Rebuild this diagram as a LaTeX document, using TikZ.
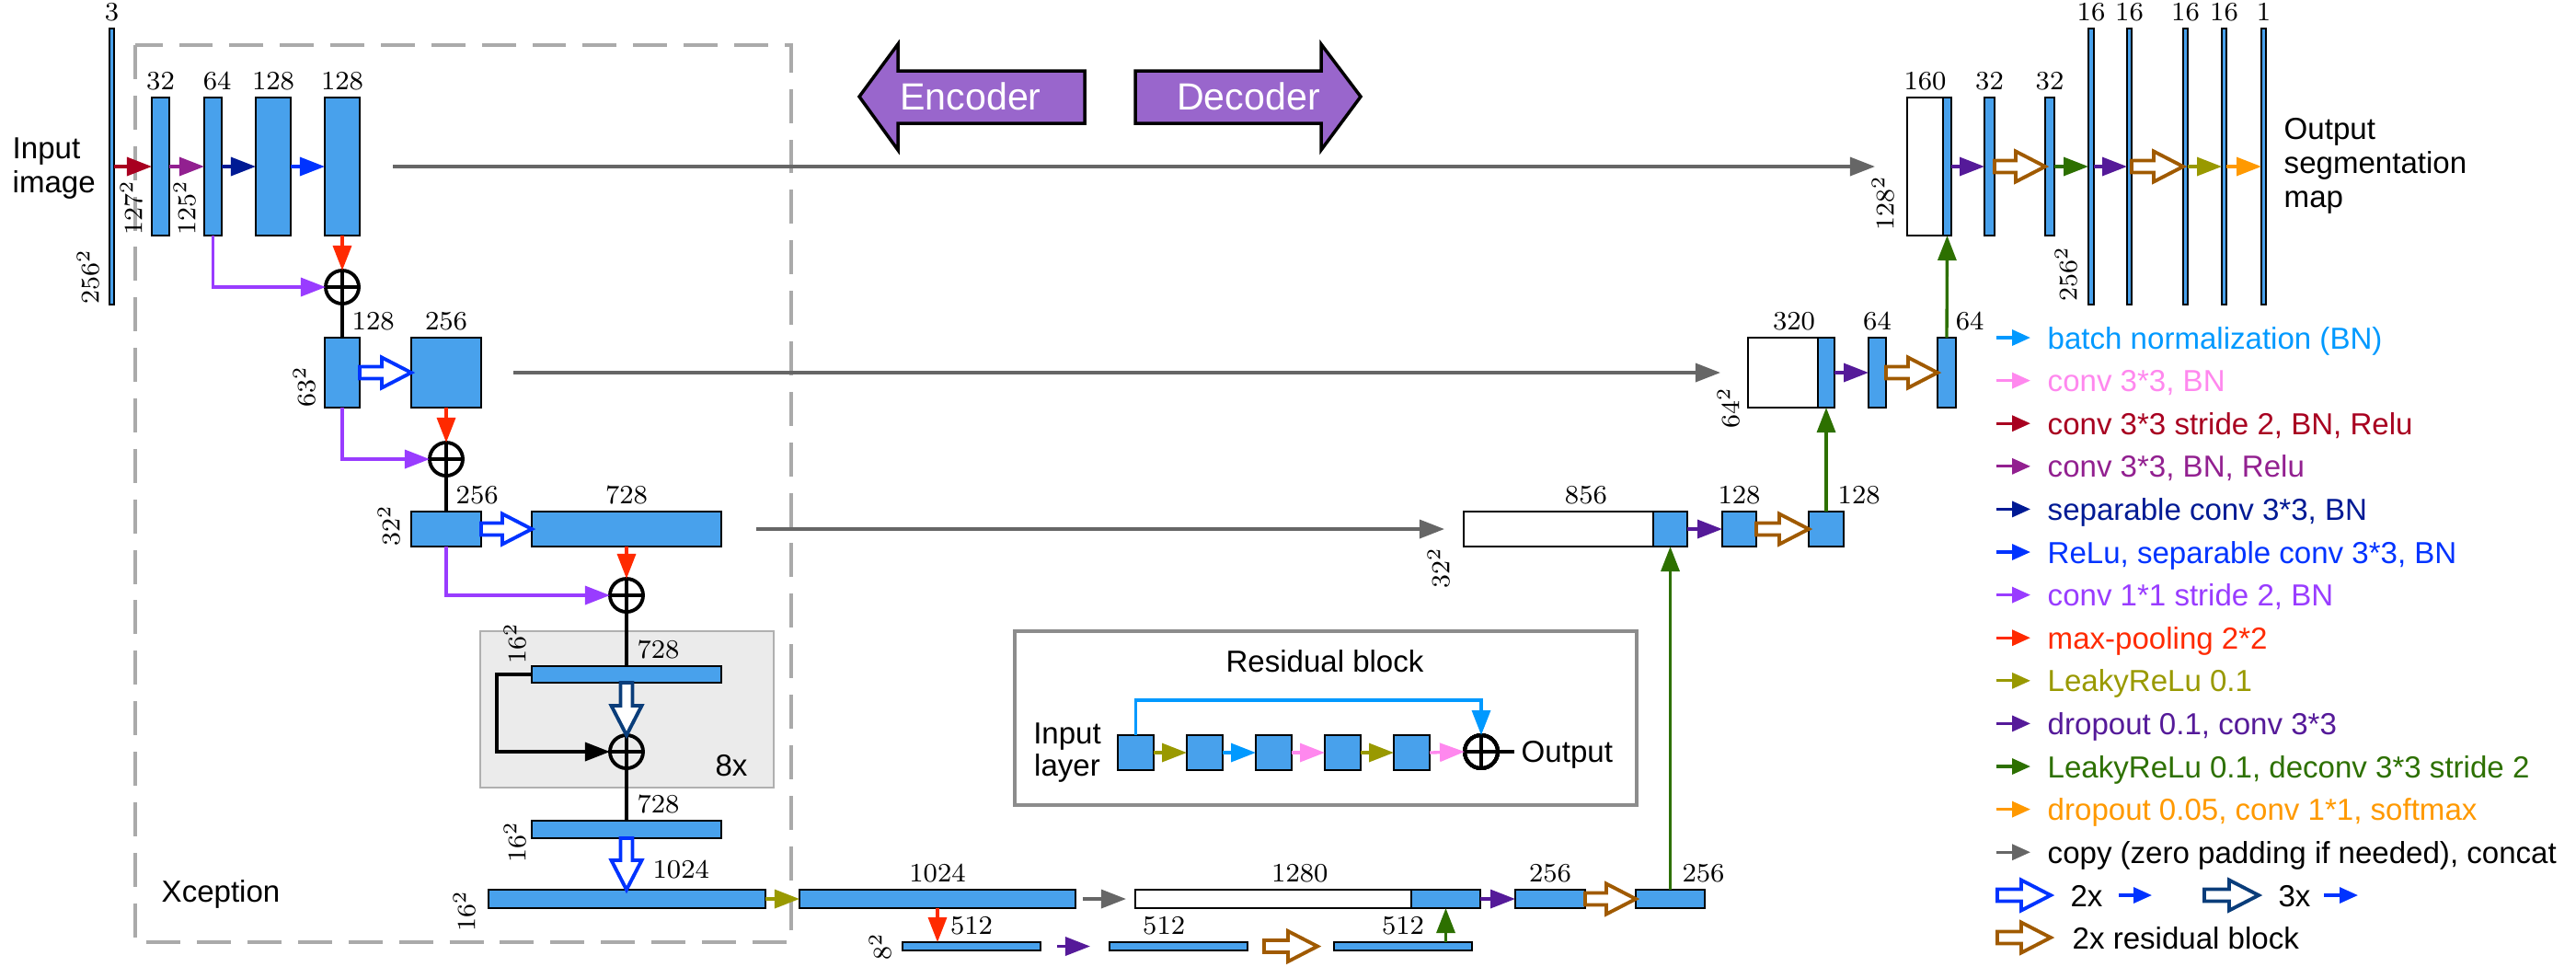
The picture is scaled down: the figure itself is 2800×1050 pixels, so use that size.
\documentclass[tikz,border=0pt]{standalone}
\usepackage{fontspec}
\newfontfamily\arialfont{Liberation Sans}
\usetikzlibrary{arrows.meta,calc}

\definecolor{blockblue}{RGB}{72,161,236}
\definecolor{cbn}{RGB}{0,153,255}
\definecolor{cpink}{RGB}{255,136,238}
\definecolor{cconvs}{RGB}{168,0,32}
\definecolor{cconvr}{RGB}{146,32,144}
\definecolor{csep}{RGB}{0,26,148}
\definecolor{crelu}{RGB}{0,51,255}
\definecolor{cone}{RGB}{153,60,255}
\definecolor{cpool}{RGB}{255,42,0}
\definecolor{cleaky}{RGB}{153,153,0}
\definecolor{cdrop}{RGB}{85,26,153}
\definecolor{cdeconv}{RGB}{45,112,0}
\definecolor{csoft}{RGB}{255,153,0}
\definecolor{ccopy}{RGB}{102,102,102}
\definecolor{cthree}{RGB}{10,61,122}
\definecolor{cres}{RGB}{160,90,0}
\definecolor{cencdec}{RGB}{153,102,204}
\definecolor{boxgray}{RGB}{235,235,235}
\definecolor{boxedge}{RGB}{176,176,176}

\newcommand{\numfont}{\fontsize{8.2}{9.8}\selectfont}
\newcommand{\diagsans}{\arialfont\fontsize{9.4}{10.5}\selectfont}

% block given by its corners (pixel grid of the figure)
\newcommand{\convlayer}[6][]{%
  \node[blk,minimum width={(#5-#3)*0.01cm},minimum height={(#6-#4)*0.01cm},#1] (#2) at ({(#3+#5)/2},{(#4+#6)/2}) {};}

\tikzset{
  blk/.style={draw,fill=blockblue,line width=0.6pt,inner sep=0,outer sep=0},
  lbl/.style={font=\numfont,inner sep=2.1pt},
  side/.style={font=\numfont,inner sep=0,rotate=90},
  txt/.style={font=\diagsans,inner sep=0},
  con/.style={line width=0.95pt,-{Triangle[length=0.27cm,width=0.2cm]}},
  leg/.style={line width=0.95pt,-{Triangle[length=0.2cm,width=0.17cm]}},
  link/.style={line width=1.1pt},
  oplus/.style={circle,draw,line width=1.1pt,minimum size=0.36cm,inner sep=0,outer sep=0,
    path picture={\draw[line width=1.1pt] (path picture bounding box.north) -- (path picture bounding box.south)
      (path picture bounding box.west) -- (path picture bounding box.east);}},
  hollowR/.style={line width=1.1pt,fill=white,line join=miter,
    to path={let \p1=(\tikztostart),\p2=(\tikztotarget) in
      (\x1,{\y1+0.065cm}) -- ({\x2-0.32cm},{\y1+0.065cm}) -- ({\x2-0.32cm},{\y1+0.165cm})
      -- (\x2,\y1) -- ({\x2-0.32cm},{\y1-0.165cm}) -- ({\x2-0.32cm},{\y1-0.065cm})
      -- (\x1,{\y1-0.065cm}) -- cycle}},
  hollowD/.style={line width=1.1pt,fill=white,line join=miter,
    to path={let \p1=(\tikztostart),\p2=(\tikztotarget) in
      ({\x1-0.065cm},\y1) -- ({\x1-0.065cm},{\y2+0.32cm}) -- ({\x1-0.165cm},{\y2+0.32cm})
      -- (\x1,\y2) -- ({\x1+0.165cm},{\y2+0.32cm}) -- ({\x1+0.065cm},{\y2+0.32cm})
      -- ({\x1+0.065cm},\y1) -- cycle}},
  encdec/.style={draw=black,fill=cencdec,line width=1pt,line join=miter}
}

\begin{document}
\begin{tikzpicture}[x=0.01cm,y=-0.01cm]
  \useasboundingbox (0,0) rectangle (2800,1050);

  % frames
  \draw[draw={rgb,255:red,170;green,170;blue,170},line width=1pt,dash pattern=on 10.5pt off 5.1pt] (147,49) rectangle (860,1024);
  \draw[fill=boxgray,draw=boxedge,line width=0.6pt] (522,686) rectangle (841,856);
  \draw[draw={rgb,255:red,140;green,140;blue,140},line width=0.95pt] (1103,686) rectangle (1779,875);
  \node[txt,anchor=west] (xcep) at (175,972) {Xception};
  \node[txt] (eightx) at (795,832) {8x};

  % encoder / decoder banners
  \draw[encdec] (934,105) -- (976,48) -- (976,77) -- (1179,77) -- (1179,134) -- (976,134) -- (976,163) -- cycle;
  \draw[encdec] (1479,105) -- (1436,48) -- (1436,77) -- (1234,77) -- (1234,134) -- (1436,134) -- (1436,163) -- cycle;
  \node[font=\arialfont\fontsize{11.7}{14}\selectfont,text=white,inner sep=0] (enc) at (1055,105) {Encoder};
  \node[font=\arialfont\fontsize{11.7}{14}\selectfont,text=white,inner sep=0] (dec) at (1357,105) {Decoder};

  % encoder
  \node[txt,align=left,anchor=west] (inimg) at (13,183) {Input\\image};
  \convlayer[label={[lbl]above:3}]{in3}{119}{31}{124}{331}
  \convlayer[label={[lbl]above:32}]{b32}{165}{106}{184}{256}
  \convlayer[label={[lbl,xshift=1.3pt]above:64}]{b64}{222}{106}{241}{256}
  \convlayer[label={[lbl]above:128}]{b128a}{278}{106}{316}{256}
  \convlayer[label={[lbl]above:128}]{b128b}{353}{106}{391}{256}
  \convlayer[label={[lbl,anchor=south west,xshift=0.75pt]above:128}]{b128c}{353}{367}{391}{443}
  \convlayer[label={[lbl]above:256}]{b256}{447}{367}{523}{443}
  \convlayer[label={[lbl,anchor=south west,xshift=0.75pt]above:256}]{b256b}{447}{556}{523}{594}
  \convlayer[label={[lbl]above:728}]{b728}{578}{556}{784}{594}
  \convlayer[label={[lbl,anchor=south west,xshift=1pt]above:728}]{r728a}{578}{724}{784}{742}
  \convlayer[label={[lbl,anchor=south west,xshift=1pt]above:728}]{r728b}{578}{892}{784}{911}
  \convlayer[label={[lbl,anchor=south west,xshift=5.7pt,yshift=1.1pt]above:1024}]{b1024}{531}{967}{832}{987}

  \node[oplus] (add1) at (372,312) {};
  \node[oplus] (add2) at (485,499) {};
  \node[oplus] (add3) at (681,647) {};
  \node[oplus] (add4) at (681,817) {};

  \node[side,anchor=south west] at ($(in3.south west)+(-11,0)$) {$256^2$};
  \node[side,anchor=south west] at ($(b32.south west)+(-10,0)$) {$127^2$};
  \node[side,anchor=south west] at ($(b64.south west)+(-9,0)$) {$125^2$};
  \node[side,anchor=south west] at ($(b128c.south west)+(-10,0)$) {$63^2$};
  \node[side,anchor=south west] at ($(b256b.south west)+(-12,0)$) {$32^2$};
  \node[side,anchor=south west] at ($(r728a.north west)+(-6,-2)$) {$16^2$};
  \node[side,anchor=south east] at ($(r728b.north west)+(-6,0)$) {$16^2$};
  \node[side,anchor=south east] at ($(b1024.north west)+(-14,0)$) {$16^2$};

  \draw[con,cconvs] (in3.east) -- (b32.west);
  \draw[con,cconvr] (b32.east) -- (b64.west);
  \draw[con,csep] (b64.east) -- (b128a.west);
  \draw[con,crelu] (b128a.east) -- (b128b.west);
  \draw[con,cpool] (b128b.south) -- (add1.north);
  \draw[con,cone] (b64.south) |- (add1.west);
  \draw[link] (add1.south) -- (b128c.north);
  \draw[hollowR,draw=crelu] (b128c.east) to (b256.west);
  \draw[con,cpool] (b256.south) -- (add2.north);
  \draw[con,cone] (b128c.south) |- (add2.west);
  \draw[link] (add2.south) -- (b256b.north);
  \draw[hollowR,draw=crelu] (b256b.east) to (b728.west);
  \draw[con,cpool] (b728.south) -- (add3.north);
  \draw[con,cone] (b256b.south) |- (add3.west);
  \draw[link] (add3.south) -- (r728a.north);
  \draw[hollowD,draw=cthree] (r728a.south) to (add4.north);
  \draw[con,black] (r728a.west) -- ++(-38,0) |- (add4.west);
  \draw[link] (add4.south) -- (r728b.north);
  \draw[hollowD,draw=crelu] (r728b.south) to (b1024.north);

  % bottleneck
  \convlayer[label={[lbl]above:1024}]{d1024}{869}{967}{1169}{987}
  \convlayer[fill=white,label={[lbl,xshift=8.2pt]above:1280}]{w1280}{1234}{967}{1534}{987}
  \convlayer{c1280}{1534}{967}{1609}{987}
  \convlayer[label={[lbl]above:512}]{p1}{981}{1024}{1131}{1033}
  \convlayer[label={[lbl,xshift=-4.5pt]above:512}]{p2}{1206}{1024}{1356}{1033}
  \convlayer[label={[lbl]above:512}]{p3}{1450}{1024}{1600}{1033}
  \convlayer[label={[lbl]above:256}]{d256}{1647}{967}{1723}{987}
  \convlayer[label={[lbl,anchor=south west,xshift=1.4pt]above:256}]{d256b}{1778}{967}{1853}{987}
  \node[side,anchor=south] at ($(p1.west)+(-12,0)$) {$8^2$};

  \draw[con,cleaky] (b1024.east) -- (d1024.west);
  \draw[con,cpool] (d1024.south) -- (d1024.south |- p1.north);
  \draw[con,ccopy,shorten <=0.08cm,shorten >=0.1cm] (d1024.east) -- (w1280.west);
  \draw[con,cdrop,shorten <=0.18cm,shorten >=0.21cm] (p1.east) -- (p2.west);
  \draw[hollowR,draw=cres] ($(p2.east)+(18,0)$) to ($(p3.west)+(-18,0)$);
  \draw[con,cdeconv] (c1280.south |- p3.north) -- (c1280.south);
  \draw[con,cdrop] (c1280.east) -- (d256.west);
  \draw[hollowR,draw=cres] (d256.east) to (d256b.west);

  % decoder
  \convlayer[fill=white,label={[lbl,xshift=8.5pt]above:856}]{w856}{1591}{556}{1797}{594}
  \convlayer{c856}{1797}{556}{1834}{594}
  \convlayer[label={[lbl]above:128}]{d128}{1872}{556}{1909}{594}
  \convlayer[label={[lbl,anchor=south west,xshift=1.3pt]above:128}]{d128b}{1966}{556}{2004}{594}
  \convlayer[fill=white,label={[lbl,xshift=3.4pt]above:320}]{w320}{1900}{367}{1976}{443}
  \convlayer{c320}{1976}{367}{1994}{443}
  \convlayer[label={[lbl]above:64}]{d64}{2031}{367}{2050}{443}
  \convlayer[label={[lbl,anchor=south west,xshift=0.5pt]above:64}]{d64b}{2106}{367}{2126}{443}
  \convlayer[fill=white,label={[lbl]above:160}]{w160}{2073}{106}{2112}{256}
  \convlayer{c160}{2112}{106}{2121}{256}
  \convlayer[label={[lbl]above:32}]{d32}{2157}{106}{2168}{256}
  \convlayer[label={[lbl]above:32}]{d32b}{2223}{106}{2233}{256}
  \convlayer[label={[lbl]above:16}]{o16a}{2270}{31}{2276}{331}
  \convlayer[label={[lbl]above:16}]{o16b}{2312}{31}{2317}{331}
  \convlayer[label={[lbl]above:16}]{o16c}{2373}{31}{2378}{331}
  \convlayer[label={[lbl]above:16}]{o16d}{2415}{31}{2420}{331}
  \convlayer[label={[lbl]above:1}]{o1}{2458}{31}{2463}{331}
  \node[txt,align=left,anchor=west] (outmap) at (2482,180) {Output\\segmentation\\map};

  \node[side,anchor=south east] at ($(w856.south west)+(-15,0)$) {$32^2$};
  \node[side,anchor=south] at ($(w320.south west)+(-9,0)$) {$64^2$};
  \node[side,anchor=south west] at ($(w160.south west)+(-14,-5)$) {$128^2$};
  \node[side,anchor=south west] at ($(o16a.south west)+(-12,-3)$) {$256^2$};

  \draw[con,cdeconv] (d256b.north) -- (c856.south);
  \draw[con,cdrop] (c856.east) -- (d128.west);
  \draw[hollowR,draw=cres] (d128.east) to (d128b.west);
  \draw[con,cdeconv] (d128b.north) -- (c320.south);
  \draw[con,cdrop] (c320.east) -- (d64.west);
  \draw[hollowR,draw=cres] (d64.east) to (d64b.west);
  \draw[con,cdeconv] (d64b.north) -- (c160.south);
  \draw[con,cdrop] (c160.east) -- (d32.west);
  \draw[hollowR,draw=cres] (d32.east) to (d32b.west);
  \draw[con,cdeconv] (d32b.east) -- (o16a.west);
  \draw[con,cdrop] (o16a.east) -- (o16b.west);
  \draw[hollowR,draw=cres] (o16b.east) to (o16c.west);
  \draw[con,cleaky] (o16c.east) -- (o16d.west);
  \draw[con,csoft] (o16d.east) -- (o1.west);

  % skip copies
  \draw[con,ccopy,shorten <=0.36cm,shorten >=0.35cm] (b128b.east) -- (w160.west);
  \draw[con,ccopy,shorten <=0.35cm,shorten >=0.3cm] (b256.east) -- (w320.west);
  \draw[con,ccopy,shorten <=0.38cm,shorten >=0.21cm] (b728.east) -- (w856.west);

  % residual block
  \node[txt] (restitle) at (1440,719) {Residual block};
  \node[txt,align=center,font=\arialfont\fontsize{9.4}{10}\selectfont] (inlayer) at (1160,818) {Input\\layer};
  \foreach \i/\x in {1/1215,2/1290,3/1365,4/1440,5/1515}
    \convlayer{rs\i}{\x}{799}{\x+39}{837}
  \node[oplus] (radd) at (1610,817) {};
  \node[txt,anchor=west] (outtxt) at (1653,820) {Output};
  \draw[con,cleaky] (rs1.east) -- (rs2.west);
  \draw[con,cbn] (rs2.east) -- (rs3.west);
  \draw[con,cpink] (rs3.east) -- (rs4.west);
  \draw[con,cleaky] (rs4.east) -- (rs5.west);
  \draw[con,cpink] (rs5.east) -- (radd.west);
  \draw[con,cbn] (rs1.north) -- ++(0,-38) -| (radd.north);
  \draw[link,shorten >=0.07cm] (radd.east) -- (radd.east -| outtxt.west);

  % legend
  \foreach \c/\tc/\t [count=\i] in {
    cbn/cbn/{batch normalization (BN)},
    cpink/cpink/{conv 3*3, BN},
    cconvs/cconvs/{conv 3*3 stride 2, BN, Relu},
    cconvr/cconvr/{conv 3*3, BN, Relu},
    csep/csep/{separable conv 3*3, BN},
    crelu/crelu/{ReLu, separable conv 3*3, BN},
    cone/cone/{conv 1*1 stride 2, BN},
    cpool/cpool/{max-pooling 2*2},
    cleaky/cleaky/{LeakyReLu 0.1},
    cdrop/cdrop/{dropout 0.1, conv 3*3},
    cdeconv/cdeconv/{LeakyReLu 0.1, deconv 3*3 stride 2},
    csoft/csoft/{dropout 0.05, conv 1*1, softmax},
    ccopy/black/{copy (zero padding if needed), concat}}
  {
    \pgfmathsetmacro\yy{367+(\i-1)*46.6}
    \draw[leg,\c] (2170,\yy) -- (2207,\yy);
    \node[txt,text=\tc,anchor=base west] at (2225,\yy+12) {\t};
  }
  \draw[hollowR,draw=crelu] (2171,973) to (2229,973);
  \node[txt,anchor=base] at (2268,985) {2x};
  \draw[leg,crelu] (2303,973) -- (2339,973);
  \draw[hollowR,draw=cthree] (2396,973) to (2455,973);
  \node[txt,anchor=base] at (2494,985) {3x};
  \draw[leg,crelu] (2526,973) -- (2563,973);
  \draw[hollowR,draw=cres] (2171,1019) to (2229,1019);
  \node[txt,anchor=base west] at (2252,1031) {2x residual block};
\end{tikzpicture}
\end{document}
